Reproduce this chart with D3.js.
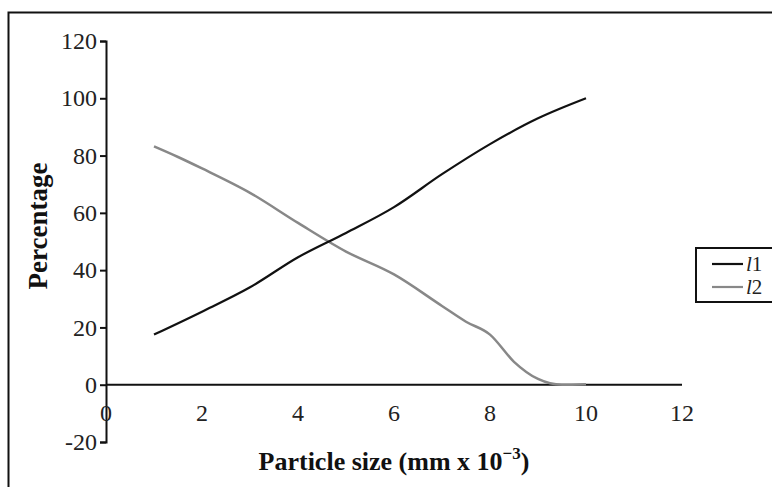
<!DOCTYPE html>
<html>
<head>
<meta charset="utf-8">
<script src="https://cdn.jsdelivr.net/npm/d3@7"></script>
<style>
  html, body { margin: 0; padding: 0; background: #fff; }
  svg { display: block; font-family: "Liberation Serif", "Times New Roman", serif; }
</style>
</head>
<body>
<svg id="chart" width="772" height="487"></svg>
<script>
// values
const xL1 = [1, 2, 3, 4, 5, 6, 7, 8, 9, 10];
const yL1 = [17.5, 25.5, 34, 44.5, 53, 62, 73.5, 84, 93, 100];
const xL2 = [1, 1.5, 2, 3, 4, 5, 6, 7, 7.5, 8, 8.5, 9, 9.5, 10];
const yL2 = [83.2, 79.5, 75.5, 67, 56.5, 46.5, 38.5, 27.5, 22, 17.5, 8, 2, 0, 0.2];
const xTicks = [0, 2, 4, 6, 8, 10, 12];
const yTicks = [-20, 0, 20, 40, 60, 80, 100, 120];
const seriesNames = ['1', '2'];

const svg = d3.select('#chart');

// outer frame, runs off the right and bottom of the picture
svg.append('rect')
  .attr('x', 8.5).attr('y', 12.5)
  .attr('width', 800).attr('height', 500)
  .attr('fill', 'none').attr('stroke', '#111').attr('stroke-width', 2);

const x = d3.scaleLinear().domain([0, 12]).range([106, 682]);
const y = d3.scaleLinear().domain([-20, 120]).range([442, 41]);

// y axis
const yAxis = svg.append('g')
  .attr('transform', `translate(${x(0)},0)`)
  .call(d3.axisLeft(y).tickValues(yTicks).tickSize(6).tickPadding(3).tickFormat((d) => String(d)));
yAxis.select('.domain').attr('stroke', '#111').attr('stroke-width', 2);
yAxis.selectAll('.tick line').attr('stroke', '#111').attr('stroke-width', 2);
yAxis.selectAll('.tick text').attr('font-size', 24).attr('fill', '#222')
  .attr('font-family', '"Liberation Serif", serif');

// x axis at y = 0, labels only
svg.append('line')
  .attr('x1', x(0)).attr('x2', x(12))
  .attr('y1', y(0)).attr('y2', y(0))
  .attr('stroke', '#111').attr('stroke-width', 2);
svg.append('g').selectAll('text')
  .data(xTicks)
  .join('text')
  .attr('x', (d) => x(d))
  .attr('y', y(0) + 36)
  .attr('text-anchor', 'middle')
  .attr('font-size', 24)
  .attr('fill', '#222')
  .text((d) => d);

// axis titles
const xTitle = svg.append('text')
  .attr('x', 394).attr('y', 470)
  .attr('text-anchor', 'middle')
  .attr('font-size', 26).attr('font-weight', 'bold').attr('fill', '#111');
xTitle.append('tspan').text('Particle size (mm x 10');
xTitle.append('tspan').attr('font-size', 17).attr('dy', -11).text('\u22123');
xTitle.append('tspan').attr('dy', 11).text(')');

svg.append('text')
  .attr('transform', 'translate(47,226) rotate(-90)')
  .attr('text-anchor', 'middle')
  .attr('font-size', 27).attr('font-weight', 'bold').attr('fill', '#111')
  .text('Percentage');

// lines
const line = d3.line()
  .x((d) => x(d[0]))
  .y((d) => y(d[1]))
  .curve(d3.curveMonotoneX);

const l1 = d3.zip(xL1, yL1);
const l2 = d3.zip(xL2, yL2);

svg.append('path').datum(l2)
  .attr('d', line).attr('fill', 'none')
  .attr('stroke', '#888').attr('stroke-width', 2.5);
svg.append('path').datum(l1)
  .attr('d', line).attr('fill', 'none')
  .attr('stroke', '#111').attr('stroke-width', 2.2);

// legend
const legend = svg.append('g');
legend.append('rect')
  .attr('x', 696).attr('y', 248)
  .attr('width', 120).attr('height', 54)
  .attr('fill', '#fff').attr('stroke', '#111').attr('stroke-width', 2);
const colors = ['#111', '#888'];
const item = legend.selectAll('g.item')
  .data(seriesNames)
  .join('g')
  .attr('class', 'item')
  .attr('transform', (d, i) => `translate(0,${264 + i * 23})`);
item.append('line')
  .attr('x1', 712).attr('x2', 743)
  .attr('stroke', (d, i) => colors[i]).attr('stroke-width', 2.2);
const label = item.append('text')
  .attr('x', 746).attr('y', 7)
  .attr('font-size', 21).attr('fill', '#222');
label.append('tspan').attr('font-style', 'italic').text('l');
label.append('tspan').text((d) => d);
</script>
</body>
</html>
